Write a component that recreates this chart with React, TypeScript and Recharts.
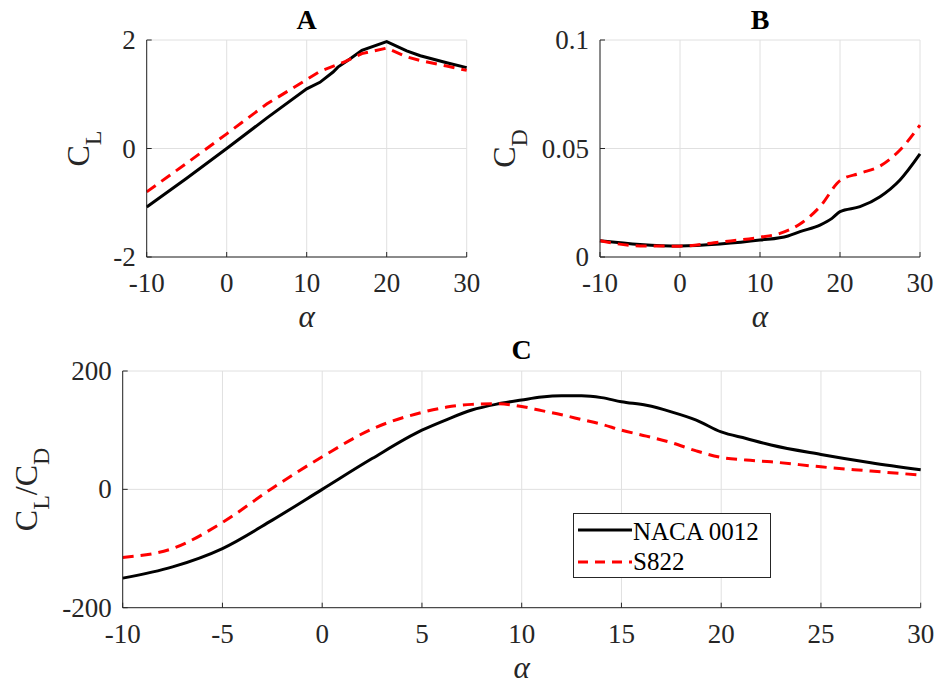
import React from 'react';
import { LineChart, Line, XAxis, YAxis, CartesianGrid, Legend, Label } from 'recharts';

const FONT = '"Liberation Serif", "Times New Roman", Times, serif';
const AXIS = '#262626';
const GRID = '#e0e0e0';

// A: lift coefficient
const alphaClNaca = [-10, -5, 0, 5, 10, 11.65, 13.3, 13.9, 15.4, 16.9, 20, 22.5, 24.2, 27.5, 30];
const clNaca = [-1.08, -0.55, 0, 0.56, 1.1, 1.22, 1.41, 1.5, 1.65, 1.81, 1.97, 1.8, 1.71, 1.58, 1.49];
const alphaClS822 = [-10, -5, 0, 5, 10, 11.65, 14.8, 16.9, 20, 22.5, 24.2, 27.5, 30];
const clS822 = [-0.8, -0.27, 0.27, 0.82, 1.27, 1.42, 1.6, 1.75, 1.85, 1.69, 1.62, 1.52, 1.44];

// B: drag coefficient
const alphaCdNaca = [-10, -5, 0, 5, 10, 13.5, 15, 17.5, 19, 20, 22.5, 25, 27.5, 30];
const cdNaca = [0.0075, 0.0058, 0.0051, 0.006, 0.0078, 0.0097, 0.0117, 0.0147, 0.0178, 0.0209, 0.0232, 0.0278, 0.0355, 0.0475];
const alphaCdS822 = [-10, -5, 0, 5, 10, 12.5, 15, 17.5, 20, 22.5, 25, 27.5, 30];
const cdS822 = [0.0075, 0.0051, 0.005, 0.0069, 0.0091, 0.0109, 0.0152, 0.0232, 0.0352, 0.0386, 0.0419, 0.0493, 0.0608];

// C: lift to drag ratio
const alphaLdNaca = [-10, -7.5, -5, -2.5, 0, 2.5, 5, 6.25, 7.5, 8.75, 10, 11, 12, 13, 14, 15, 16.25, 17.5, 18.75, 20, 21.25, 22.5, 25, 27.5, 30];
const ldNaca = [-150, -131, -100, -52, 0, 52, 100, 118, 134, 144, 151, 156, 158, 158, 155, 148, 142, 131, 117, 97, 86, 75, 59, 45, 33];
const alphaLdS822 = [-10, -7.5, -5, -2.5, 0, 2.5, 5, 6.25, 7.5, 8.75, 10, 11, 12, 13, 14, 15, 16.25, 17.5, 18.75, 20, 21.25, 22.5, 25, 27.5, 30];
const ldS822 = [-115, -100, -56, 2, 55, 102, 130, 139, 143.6, 144.5, 140, 133, 126, 118, 110, 100, 90, 79, 65, 54, 49.5, 46.5, 38, 31, 24];

const xTicksTop = [-10, 0, 10, 20, 30];
const xTicksBottom = [-10, -5, 0, 5, 10, 15, 20, 25, 30];
const yTicksCl = [-2, 0, 2];
const yTicksCd = [0, 0.05, 0.1];
const yTicksLd = [-200, 0, 200];

const zip = (xs: number[], ys: number[]) => xs.map((a, i) => ({ a, v: ys[i] }));

const XTick = (props: any) => {
  const { x, y, payload } = props;
  return (
    <g>
      <line x1={x} x2={x} y1={y} y2={y - 5} stroke={AXIS} />
      <text x={x} y={y + 35} textAnchor="middle" fontSize={27} fontFamily={FONT} fill={AXIS}>
        {payload.value}
      </text>
    </g>
  );
};

const YTick = (props: any) => {
  const { x, y, payload } = props;
  return (
    <g>
      <line x1={x} x2={x + 5} y1={y} y2={y} stroke={AXIS} />
      <text x={x - 11} y={y + 9} textAnchor="end" fontSize={27} fontFamily={FONT} fill={AXIS}>
        {payload.value}
      </text>
    </g>
  );
};

const alphaLabel = (props: any) => {
  const { viewBox } = props;
  return (
    <text x={viewBox.x + viewBox.width / 2} y={viewBox.y + 70} textAnchor="middle" fontSize={31} fontStyle="italic" fontFamily={FONT} fill={AXIS}>
      α
    </text>
  );
};

const yLabel = (parts: { t: string; sub?: boolean }[], dist: number) => (props: any) => {
  const { viewBox } = props;
  const x = viewBox.x + viewBox.width - dist;
  const y = viewBox.y + viewBox.height / 2;
  let down = false;
  return (
    <text x={x} y={y} transform={`rotate(-90, ${x}, ${y})`} textAnchor="middle" fontSize={32} fontFamily={FONT} fill={AXIS}>
      {parts.map((p, i) => {
        let dy = 0;
        if (p.sub && !down) { dy = 12; down = true; }
        else if (!p.sub && down) { dy = -12; down = false; }
        return (
          <tspan key={i} dy={dy} fontSize={p.sub ? 24 : 32}>{p.t}</tspan>
        );
      })}
    </text>
  );
};

const Title = ({ text, x, y }: { text: string; x: number; y: number }) => (
  <div style={{ position: 'absolute', left: x - 50, top: y, width: 100, textAlign: 'center', fontFamily: FONT, fontWeight: 'bold', fontSize: 28, lineHeight: '28px', color: '#000' }}>
    {text}
  </div>
);

const legendContent = () => (
  <div style={{ width: 198, height: 65, boxSizing: 'border-box', border: `1px solid ${AXIS}`, background: '#fff' }}>
    <svg width={196} height={63} style={{ display: 'block' }}>
      <line x1={4} x2={58} y1={16} y2={16} stroke="#000" strokeWidth={3} />
      <text x={59} y={26} fontSize={25} fontFamily={FONT} fill="#000">NACA 0012</text>
      <line x1={4} x2={58} y1={48} y2={48} stroke="#ff0000" strokeWidth={3} strokeDasharray="10 7" />
      <text x={59} y={56} fontSize={25} fontFamily={FONT} fill="#000">S822</text>
    </svg>
  </div>
);

export default function App() {
  return (
    <div style={{ position: 'absolute', left: 0, top: 0, width: 936, height: 684, background: '#fff', overflow: 'hidden' }}>
      {/* A */}
      <div style={{ position: 'absolute', left: 0, top: 0 }}>
        <LineChart width={480} height={340} margin={{ top: 40, right: 13.3, bottom: 13, left: 56.7 }}>
          <CartesianGrid stroke={GRID} />
          <XAxis type="number" dataKey="a" domain={[-10, 30]} ticks={xTicksTop} height={70} tickSize={0} tickMargin={0} tickLine={false} tick={(p: any) => <XTick {...p} />} axisLine={{ stroke: AXIS }}>
            <Label content={alphaLabel} />
          </XAxis>
          <YAxis type="number" domain={[-2, 2]} ticks={yTicksCl} width={90} tickSize={0} tickMargin={0} tickLine={false} tick={(p: any) => <YTick {...p} />} axisLine={{ stroke: AXIS }}>
            <Label content={yLabel([{ t: 'C' }, { t: 'L', sub: true }], 58)} />
          </YAxis>
          <Line data={zip(alphaClNaca, clNaca)} dataKey="v" type="linear" stroke="#000" strokeWidth={3} dot={false} isAnimationActive={false} />
          <Line data={zip(alphaClS822, clS822)} dataKey="v" type="linear" stroke="#ff0000" strokeWidth={3} strokeDasharray="11 7" dot={false} isAnimationActive={false} />
        </LineChart>
      </div>

      {/* B */}
      <div style={{ position: 'absolute', left: 460, top: 0 }}>
        <LineChart width={476} height={340} margin={{ top: 40, right: 16, bottom: 13, left: 30 }}>
          <CartesianGrid stroke={GRID} />
          <XAxis type="number" dataKey="a" domain={[-10, 30]} ticks={xTicksTop} height={70} tickSize={0} tickMargin={0} tickLine={false} tick={(p: any) => <XTick {...p} />} axisLine={{ stroke: AXIS }}>
            <Label content={alphaLabel} />
          </XAxis>
          <YAxis type="number" domain={[0, 0.1]} ticks={yTicksCd} width={110} tickSize={0} tickMargin={0} tickLine={false} tick={(p: any) => <YTick {...p} />} axisLine={{ stroke: AXIS }}>
            <Label content={yLabel([{ t: 'C' }, { t: 'D', sub: true }], 85)} />
          </YAxis>
          <Line data={zip(alphaCdNaca, cdNaca)} dataKey="v" type="monotone" stroke="#000" strokeWidth={3} dot={false} isAnimationActive={false} />
          <Line data={zip(alphaCdS822, cdS822)} dataKey="v" type="monotone" stroke="#ff0000" strokeWidth={3} strokeDasharray="11 7" dot={false} isAnimationActive={false} />
        </LineChart>
      </div>

      {/* C */}
      <div style={{ position: 'absolute', left: 0, top: 330 }}>
        <LineChart width={936} height={354} margin={{ top: 41, right: 15.3, bottom: 6.3, left: 12.7 }}>
          <CartesianGrid stroke={GRID} />
          <XAxis type="number" dataKey="a" domain={[-10, 30]} ticks={xTicksBottom} height={70} tickSize={0} tickMargin={0} tickLine={false} tick={(p: any) => <XTick {...p} />} axisLine={{ stroke: AXIS }}>
            <Label content={alphaLabel} />
          </XAxis>
          <YAxis type="number" domain={[-200, 200]} ticks={yTicksLd} width={110} tickSize={0} tickMargin={0} tickLine={false} tick={(p: any) => <YTick {...p} />} axisLine={{ stroke: AXIS }}>
            <Label content={yLabel([{ t: 'C' }, { t: 'L', sub: true }, { t: '/C' }, { t: 'D', sub: true }], 86)} />
          </YAxis>
          <Line data={zip(alphaLdNaca, ldNaca)} dataKey="v" name="NACA 0012" type="monotone" stroke="#000" strokeWidth={3} dot={false} isAnimationActive={false} />
          <Line data={zip(alphaLdS822, ldS822)} dataKey="v" name="S822" type="monotone" stroke="#ff0000" strokeWidth={3} strokeDasharray="11 7" dot={false} isAnimationActive={false} />
          <Legend layout="vertical" align="center" verticalAlign="middle" content={legendContent} wrapperStyle={{ left: 573, top: 183, width: 198, height: 65 }} />
        </LineChart>
      </div>

      <Title text="A" x={306.7} y={6} />
      <Title text="B" x={760} y={6} />
      <Title text="C" x={521.7} y={336} />
    </div>
  );
}
